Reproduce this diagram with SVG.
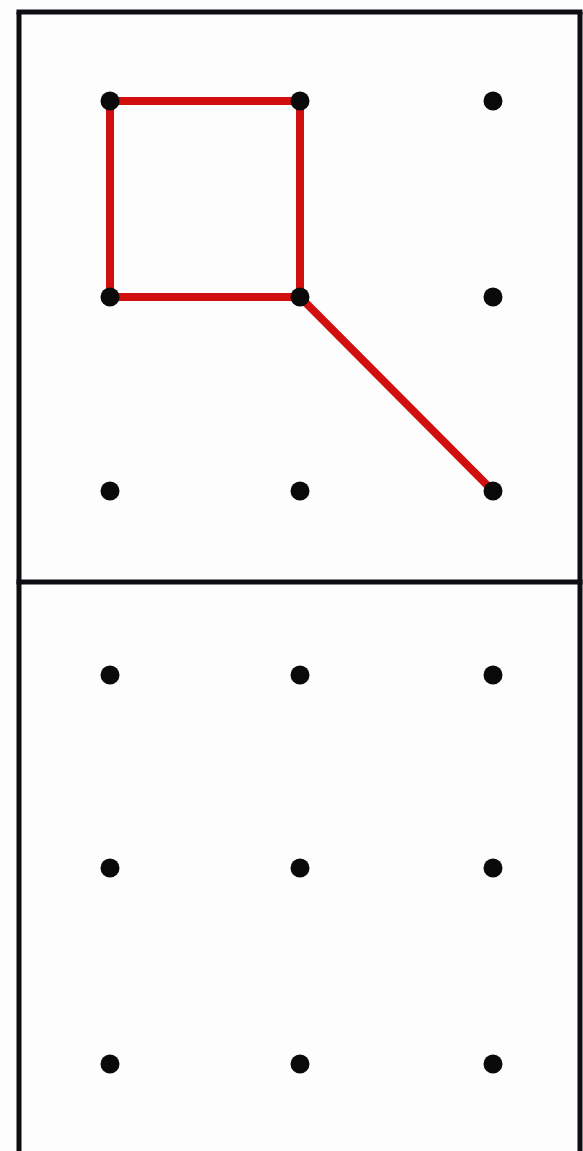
<svg xmlns="http://www.w3.org/2000/svg" width="583" height="1151" viewBox="0 0 583 1151">
<style>
.frame{stroke:#0d0d12;stroke-width:5;fill:none}
.edge{stroke:#d10f0f;stroke-width:8;stroke-linecap:butt;fill:none}
.dot{fill:#0a0a0a}
</style>
<rect width="583" height="1151" fill="#fdfdfd"/>
<g id="frame">
<line class="frame" x1="19" y1="12" x2="19" y2="1151" stroke="#15152e"/>
<line class="frame" x1="16.5" y1="12" x2="582.5" y2="12"/>
<line class="frame" x1="580" y1="12" x2="580" y2="1151"/>
<line class="frame" x1="16.5" y1="582" x2="582.5" y2="582"/>
</g>
<g id="connectors">
<line class="edge" x1="110" y1="101" x2="300" y2="101"/>
<line class="edge" x1="110" y1="101" x2="110" y2="297"/>
<line class="edge" x1="300" y1="101" x2="300" y2="297"/>
<line class="edge" x1="110" y1="297" x2="300" y2="297"/>
<line class="edge" x1="300" y1="297" x2="493" y2="491"/>
</g>
<g id="top-grid">
<circle id="t11" class="dot" cx="110" cy="101" r="9.5"/>
<circle id="t12" class="dot" cx="300" cy="101" r="9.5"/>
<circle id="t13" class="dot" cx="493" cy="101" r="9.5"/>
<circle id="t21" class="dot" cx="110" cy="297" r="9.5"/>
<circle id="t22" class="dot" cx="300" cy="297" r="9.5"/>
<circle id="t23" class="dot" cx="493" cy="297" r="9.5"/>
<circle id="t31" class="dot" cx="110" cy="491" r="9.5"/>
<circle id="t32" class="dot" cx="300" cy="491" r="9.5"/>
<circle id="t33" class="dot" cx="493" cy="491" r="9.5"/>
</g>
<g id="bottom-grid">
<circle id="b11" class="dot" cx="110" cy="675" r="9.5"/>
<circle id="b12" class="dot" cx="300" cy="675" r="9.5"/>
<circle id="b13" class="dot" cx="493" cy="675" r="9.5"/>
<circle id="b21" class="dot" cx="110" cy="868" r="9.5"/>
<circle id="b22" class="dot" cx="300" cy="868" r="9.5"/>
<circle id="b23" class="dot" cx="493" cy="868" r="9.5"/>
<circle id="b31" class="dot" cx="110" cy="1064" r="9.5"/>
<circle id="b32" class="dot" cx="300" cy="1064" r="9.5"/>
<circle id="b33" class="dot" cx="493" cy="1064" r="9.5"/>
</g>
</svg>
